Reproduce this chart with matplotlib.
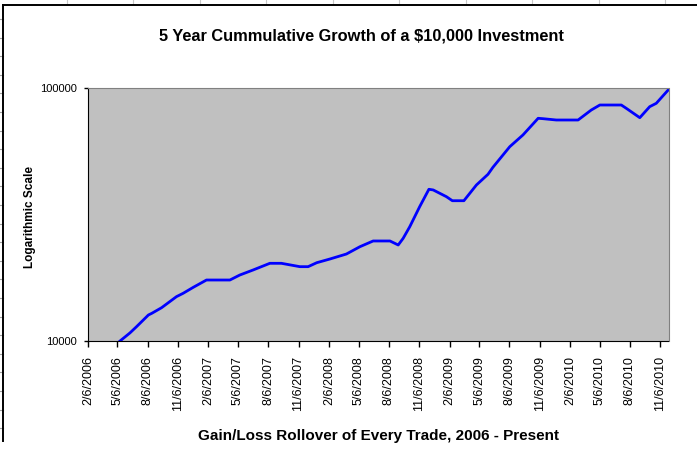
import matplotlib
matplotlib.use("Agg")
import matplotlib.pyplot as plt
import matplotlib.ticker as mticker
from matplotlib.lines import Line2D
import numpy as np
import pandas as pd

# values (log scale, 10000..100000)
dates = ["2006-05-14", "2006-06-13", "2006-07-03", "2006-08-08", "2006-08-18",
         "2006-09-17", "2006-11-01", "2006-11-21", "2006-12-22", "2007-01-31",
         "2007-04-12", "2007-05-12", "2007-06-21", "2007-08-11", "2007-09-15",
         "2007-11-10", "2007-12-05", "2007-12-31", "2008-02-09", "2008-03-30",
         "2008-05-10", "2008-06-19", "2008-08-09", "2008-09-03", "2008-09-18",
         "2008-10-08", "2008-11-07", "2008-12-05", "2008-12-18", "2009-01-27",
         "2009-02-14", "2009-03-21", "2009-04-28", "2009-06-02", "2009-06-17",
         "2009-08-07", "2009-09-16", "2009-11-01", "2009-11-16", "2009-12-26",
         "2010-03-02", "2010-04-11", "2010-05-07", "2010-07-11", "2010-07-26",
         "2010-09-05", "2010-10-05", "2010-10-25", "2010-11-30"]
values = [10000, 10760, 11390, 12670, 12860,
          13540, 14970, 15430, 16300, 17420,
          17420, 18230, 19080, 20280, 20280,
          19670, 19670, 20390, 21090, 22070,
          23590, 24850, 24850, 23960, 25460,
          28300, 33950, 39780, 39540, 37190,
          35850, 35850, 41370, 45590, 48600,
          58610, 65220, 75900, 75630, 74730,
          74730, 81850, 85660, 85660, 83130,
          76320, 84360, 87000, 98180]

tick_labels = ["2/6/2006", "5/6/2006", "8/6/2006", "11/6/2006",
               "2/6/2007", "5/6/2007", "8/6/2007", "11/6/2007",
               "2/6/2008", "5/6/2008", "8/6/2008", "11/6/2008",
               "2/6/2009", "5/6/2009", "8/6/2009", "11/6/2009",
               "2/6/2010", "5/6/2010", "8/6/2010", "11/6/2010"]

x = pd.to_datetime(dates)
ticks = pd.to_datetime(tick_labels, format="%m/%d/%Y")

plt.rcParams['font.family'] = ['Liberation Sans', 'DejaVu Sans']

W, H = 697, 453
fig = plt.figure(figsize=(W/100, H/100), dpi=100)
ax = fig.add_axes([88/W, 1-341/H, 580.5/W, 253/H])
ax.set_facecolor('#C0C0C0')

ax.plot(x, values, color='#0000FF', lw=2)

ax.set_yscale('log')
ax.set_ylim(10000, 100000)
ax.yaxis.set_major_locator(mticker.FixedLocator([10000, 100000]))
ax.yaxis.set_major_formatter(mticker.FixedFormatter(['10000', '100000']))
ax.yaxis.set_minor_locator(mticker.NullLocator())

ax.set_xlim(pd.Timestamp("2006-02-06"), pd.Timestamp("2010-12-01"))
ax.set_xticks(ticks)
ax.set_xticklabels(tick_labels, rotation=90, fontsize=9)
ax.tick_params(axis='x', length=4, width=1, pad=7)
ax.tick_params(axis='y', length=3, width=1, pad=5, labelsize=8)

for s in ['top', 'right']:
    ax.spines[s].set_color('#808080')
for s in ['left', 'bottom']:
    ax.spines[s].set_color('black')

fig.text(361/W, 1-36/H, "5 Year Cummulative Growth of a $10,000 Investment",
         ha='center', va='center', fontsize=11.8, fontweight='bold')
fig.text(30/W, 1-217/H, "Logarithmic Scale", rotation=90,
         ha='center', va='center', fontsize=8.5, fontweight='bold')
fig.text(378/W, 1-436/H, "Gain/Loss Rollover of Every Trade, 2006 - Present",
         ha='center', va='center', fontsize=11, fontweight='bold')

# chart-area border and the spreadsheet grid around it
def fline(x0, y0, x1, y1, c, lw):
    fig.add_artist(Line2D([x0/W, x1/W], [1-y0/H, 1-y1/H], color=c, lw=lw,
                          transform=fig.transFigure))

for gx in np.arange(66.5, W, 66.5):
    fline(gx, 0, gx, 4, '#C8C8C8', 0.8)
for gy in np.arange(19, 441, 18.6):
    fline(0, gy, 2.5, gy, '#A0A0A0', 0.8)
fline(3, 4.5, W, 4.5, 'black', 1.4)
fline(3, 4.5, 3, 441, 'black', 1.4)

fig.savefig("out.png", dpi=100)
